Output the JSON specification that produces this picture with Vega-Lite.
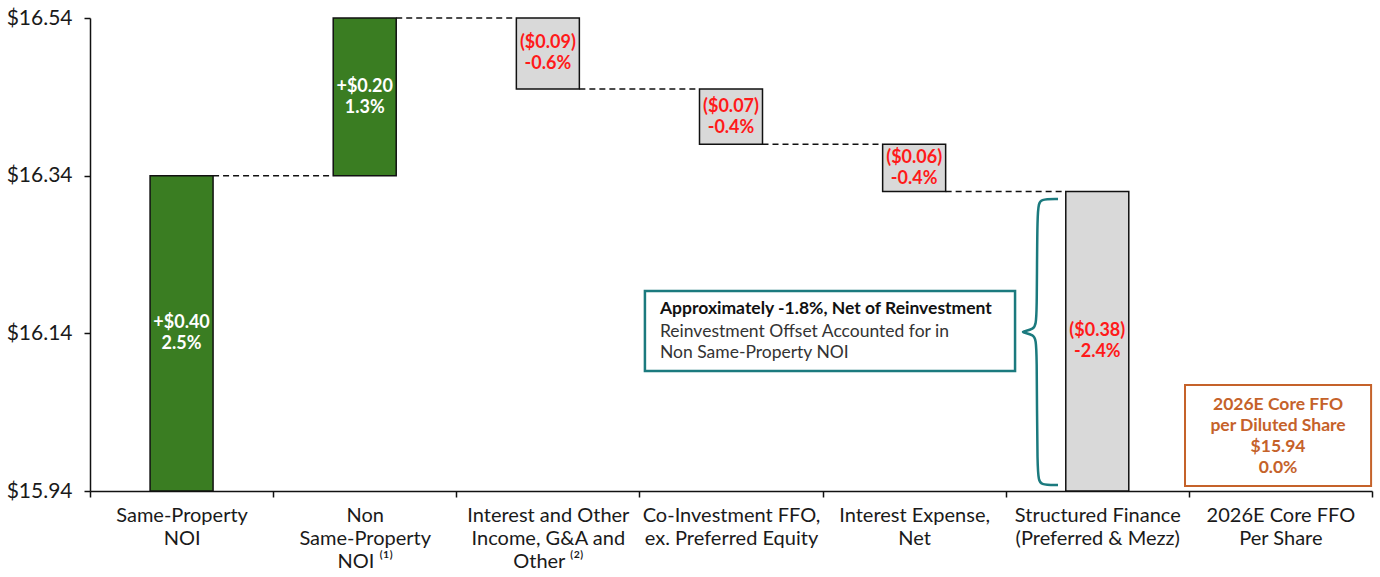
{
  "$schema": "https://vega.github.io/schema/vega-lite/v6.json",
  "width": 1282,
  "height": 473,
  "autosize": {"type": "none"},
  "padding": {"left": 90, "top": 18, "right": 8, "bottom": 86},
  "background": "white",
  "config": {"font": "Lato", "view": {"stroke": null}},
  "layer": [
    {
      "layer": [
        {
          "data": {"values": [
            {"cat": "Same-Property|NOI", "start": 15.94, "end": 16.34, "kind": "up", "label": "+$0.40|2.5%"},
            {"cat": "Non|Same-Property|NOI ⁽¹⁾", "start": 16.34, "end": 16.54, "kind": "up", "label": "+$0.20|1.3%"},
            {"cat": "Interest and Other|Income, G&A and|Other ⁽²⁾", "start": 16.54, "end": 16.45, "kind": "down", "label": "($0.09)|-0.6%"},
            {"cat": "Co-Investment FFO,|ex. Preferred Equity", "start": 16.45, "end": 16.38, "kind": "down", "label": "($0.07)|-0.4%"},
            {"cat": "Interest Expense,|Net", "start": 16.38, "end": 16.32, "kind": "down", "label": "($0.06)|-0.4%"},
            {"cat": "Structured Finance|(Preferred & Mezz)", "start": 16.32, "end": 15.94, "kind": "down", "label": "($0.38)|-2.4%"}
          ]},
          "layer": [
            {
              "mark": {"type": "bar", "width": {"band": 0.344}, "stroke": "#111111", "strokeWidth": 1.5},
              "encoding": {
                "x": {
                  "field": "cat", "type": "nominal", "sort": null,
                  "scale": {"type": "band", "paddingInner": 0, "paddingOuter": 0, "domain": [
                    "Same-Property|NOI", "Non|Same-Property|NOI ⁽¹⁾", "Interest and Other|Income, G&A and|Other ⁽²⁾",
                    "Co-Investment FFO,|ex. Preferred Equity", "Interest Expense,|Net", "Structured Finance|(Preferred & Mezz)",
                    "2026E Core FFO|Per Share"]},
                  "axis": {
                    "title": null, "labelAngle": 0, "tickBand": "extent",
                    "labelExpr": "isValid(datum.value) ? split(datum.value, '|') : ''",
                    "labelLineHeight": 23, "labelFontSize": 20, "labelColor": "#1a1a1a", "labelPadding": 8,
                    "labelLimit": 0, "tickSize": 6, "tickColor": "#111111", "tickWidth": 1.5,
                    "domainColor": "#111111", "domainWidth": 1.5, "grid": false, "labelFont": "Lato"
                  }
                },
                "y": {
                  "field": "start", "type": "quantitative",
                  "scale": {"domain": [15.94, 16.54], "zero": false, "nice": false},
                  "axis": {
                    "title": null, "values": [15.94, 16.14, 16.34, 16.54], "format": "$.2f", "grid": false,
                    "labelFontSize": 21, "labelColor": "#1a1a1a", "labelPadding": 12, "tickSize": 6,
                    "tickColor": "#111111", "tickWidth": 1.5, "domainColor": "#111111", "domainWidth": 1.5,
                    "labelFont": "Lato"
                  }
                },
                "y2": {"field": "end"},
                "color": {"field": "kind", "type": "nominal", "scale": {"domain": ["up", "down"], "range": ["#3A7D22", "#D9D9D9"]}, "legend": null}
              }
            },
            {
              "transform": [{"calculate": "(datum.start + datum.end) / 2", "as": "mid"}],
              "mark": {"type": "text", "lineBreak": "|", "lineHeight": 21, "fontSize": 18, "fontWeight": "bold", "baseline": "middle", "align": "center", "dy": -10},
              "encoding": {
                "x": {"field": "cat", "type": "nominal", "sort": null, "bandPosition": 0.5},
                "y": {"field": "mid", "type": "quantitative"},
                "text": {"field": "label"},
                "color": {"field": "kind", "type": "nominal", "scale": {"domain": ["up", "down"], "range": ["#FFFFFF", "#FF1A1A"]}, "legend": null}
              }
            }
          ],
          "resolve": {"scale": {"color": "independent"}}
        },
        {
          "data": {"values": [
            {"from": "Same-Property|NOI", "to": "Non|Same-Property|NOI ⁽¹⁾", "level": 16.34},
            {"from": "Non|Same-Property|NOI ⁽¹⁾", "to": "Interest and Other|Income, G&A and|Other ⁽²⁾", "level": 16.54},
            {"from": "Interest and Other|Income, G&A and|Other ⁽²⁾", "to": "Co-Investment FFO,|ex. Preferred Equity", "level": 16.45},
            {"from": "Co-Investment FFO,|ex. Preferred Equity", "to": "Interest Expense,|Net", "level": 16.38},
            {"from": "Interest Expense,|Net", "to": "Structured Finance|(Preferred & Mezz)", "level": 16.32}
          ]},
          "mark": {"type": "rule", "strokeDash": [6, 4], "strokeWidth": 1.5, "color": "#111111"},
          "encoding": {
            "x": {"field": "from", "type": "nominal", "bandPosition": 0.672},
            "x2": {"field": "to", "bandPosition": 0.328},
            "y": {"field": "level", "type": "quantitative"}
          }
        }
      ]
    },
    {
      "layer": [
        {
          "data": {"values": [
            {"ord": 1, "bx": 5.2856, "by": 16.3104},
            {"ord": 2, "bx": 5.1873, "by": 16.3104},
            {"ord": 3, "bx": 5.1709, "by": 16.3015},
            {"ord": 4, "bx": 5.1709, "by": 16.1569},
            {"ord": 5, "bx": 5.1600, "by": 16.1442},
            {"ord": 6, "bx": 5.0617, "by": 16.1417},
            {"ord": 7, "bx": 5.1600, "by": 16.1392},
            {"ord": 8, "bx": 5.1709, "by": 16.1265},
            {"ord": 9, "bx": 5.1709, "by": 15.9565},
            {"ord": 10, "bx": 5.1873, "by": 15.9476},
            {"ord": 11, "bx": 5.2856, "by": 15.9476}
          ]},
          "mark": {"type": "line", "interpolate": "basis", "stroke": "#1B7A7E", "strokeWidth": 2.5},
          "encoding": {
            "x": {"field": "bx", "type": "quantitative", "scale": {"domain": [0, 7], "nice": false, "zero": false}, "axis": null},
            "y": {"field": "by", "type": "quantitative"},
            "order": {"field": "ord"}
          }
        },
        {
          "data": {"values": [{"note": "box"}]},
          "mark": {"type": "rect", "fill": "white", "stroke": "#1B7A7E", "strokeWidth": 2.5},
          "encoding": {
            "x": {"datum": 3.03, "type": "quantitative", "scale": {"domain": [0, 7], "nice": false, "zero": false}, "axis": null},
            "x2": {"datum": 5.051},
            "y": {"datum": 16.1937, "type": "quantitative"},
            "y2": {"datum": 16.0922}
          }
        },
        {
          "data": {"values": [{"t": "Approximately -1.8%, Net of Reinvestment"}]},
          "mark": {"type": "text", "align": "left", "baseline": "middle", "fontSize": 17.5, "fontWeight": "bold", "color": "#111111"},
          "encoding": {
            "x": {"datum": 3.112, "type": "quantitative", "scale": {"domain": [0, 7], "nice": false, "zero": false}, "axis": null},
            "y": {"datum": 16.1709, "type": "quantitative"},
            "text": {"field": "t"}
          }
        },
        {
          "data": {"values": [{"t": "Reinvestment Offset Accounted for in|Non Same-Property NOI"}]},
          "mark": {"type": "text", "align": "left", "baseline": "middle", "fontSize": 17.5, "lineBreak": "|", "lineHeight": 21, "color": "#333333"},
          "encoding": {
            "x": {"datum": 3.112, "type": "quantitative", "scale": {"domain": [0, 7], "nice": false, "zero": false}, "axis": null},
            "y": {"datum": 16.1417, "type": "quantitative"},
            "text": {"field": "t"}
          }
        },
        {
          "data": {"values": [{"note": "total"}]},
          "mark": {"type": "rect", "fill": "white", "stroke": "#C5622A", "strokeWidth": 2},
          "encoding": {
            "x": {"datum": 5.979, "type": "quantitative", "scale": {"domain": [0, 7], "nice": false, "zero": false}, "axis": null},
            "x2": {"datum": 6.995},
            "y": {"datum": 16.0745, "type": "quantitative"},
            "y2": {"datum": 15.9463}
          }
        },
        {
          "data": {"values": [{"t": "2026E Core FFO|per Diluted Share|$15.94|0.0%"}]},
          "mark": {"type": "text", "align": "center", "baseline": "middle", "fontSize": 17.5, "fontWeight": "bold", "lineBreak": "|", "lineHeight": 21, "color": "#C5622A"},
          "encoding": {
            "x": {"datum": 6.487, "type": "quantitative", "scale": {"domain": [0, 7], "nice": false, "zero": false}, "axis": null},
            "y": {"datum": 16.0491, "type": "quantitative"},
            "text": {"field": "t"}
          }
        }
      ]
    }
  ],
  "resolve": {"scale": {"x": "independent"}}
}
